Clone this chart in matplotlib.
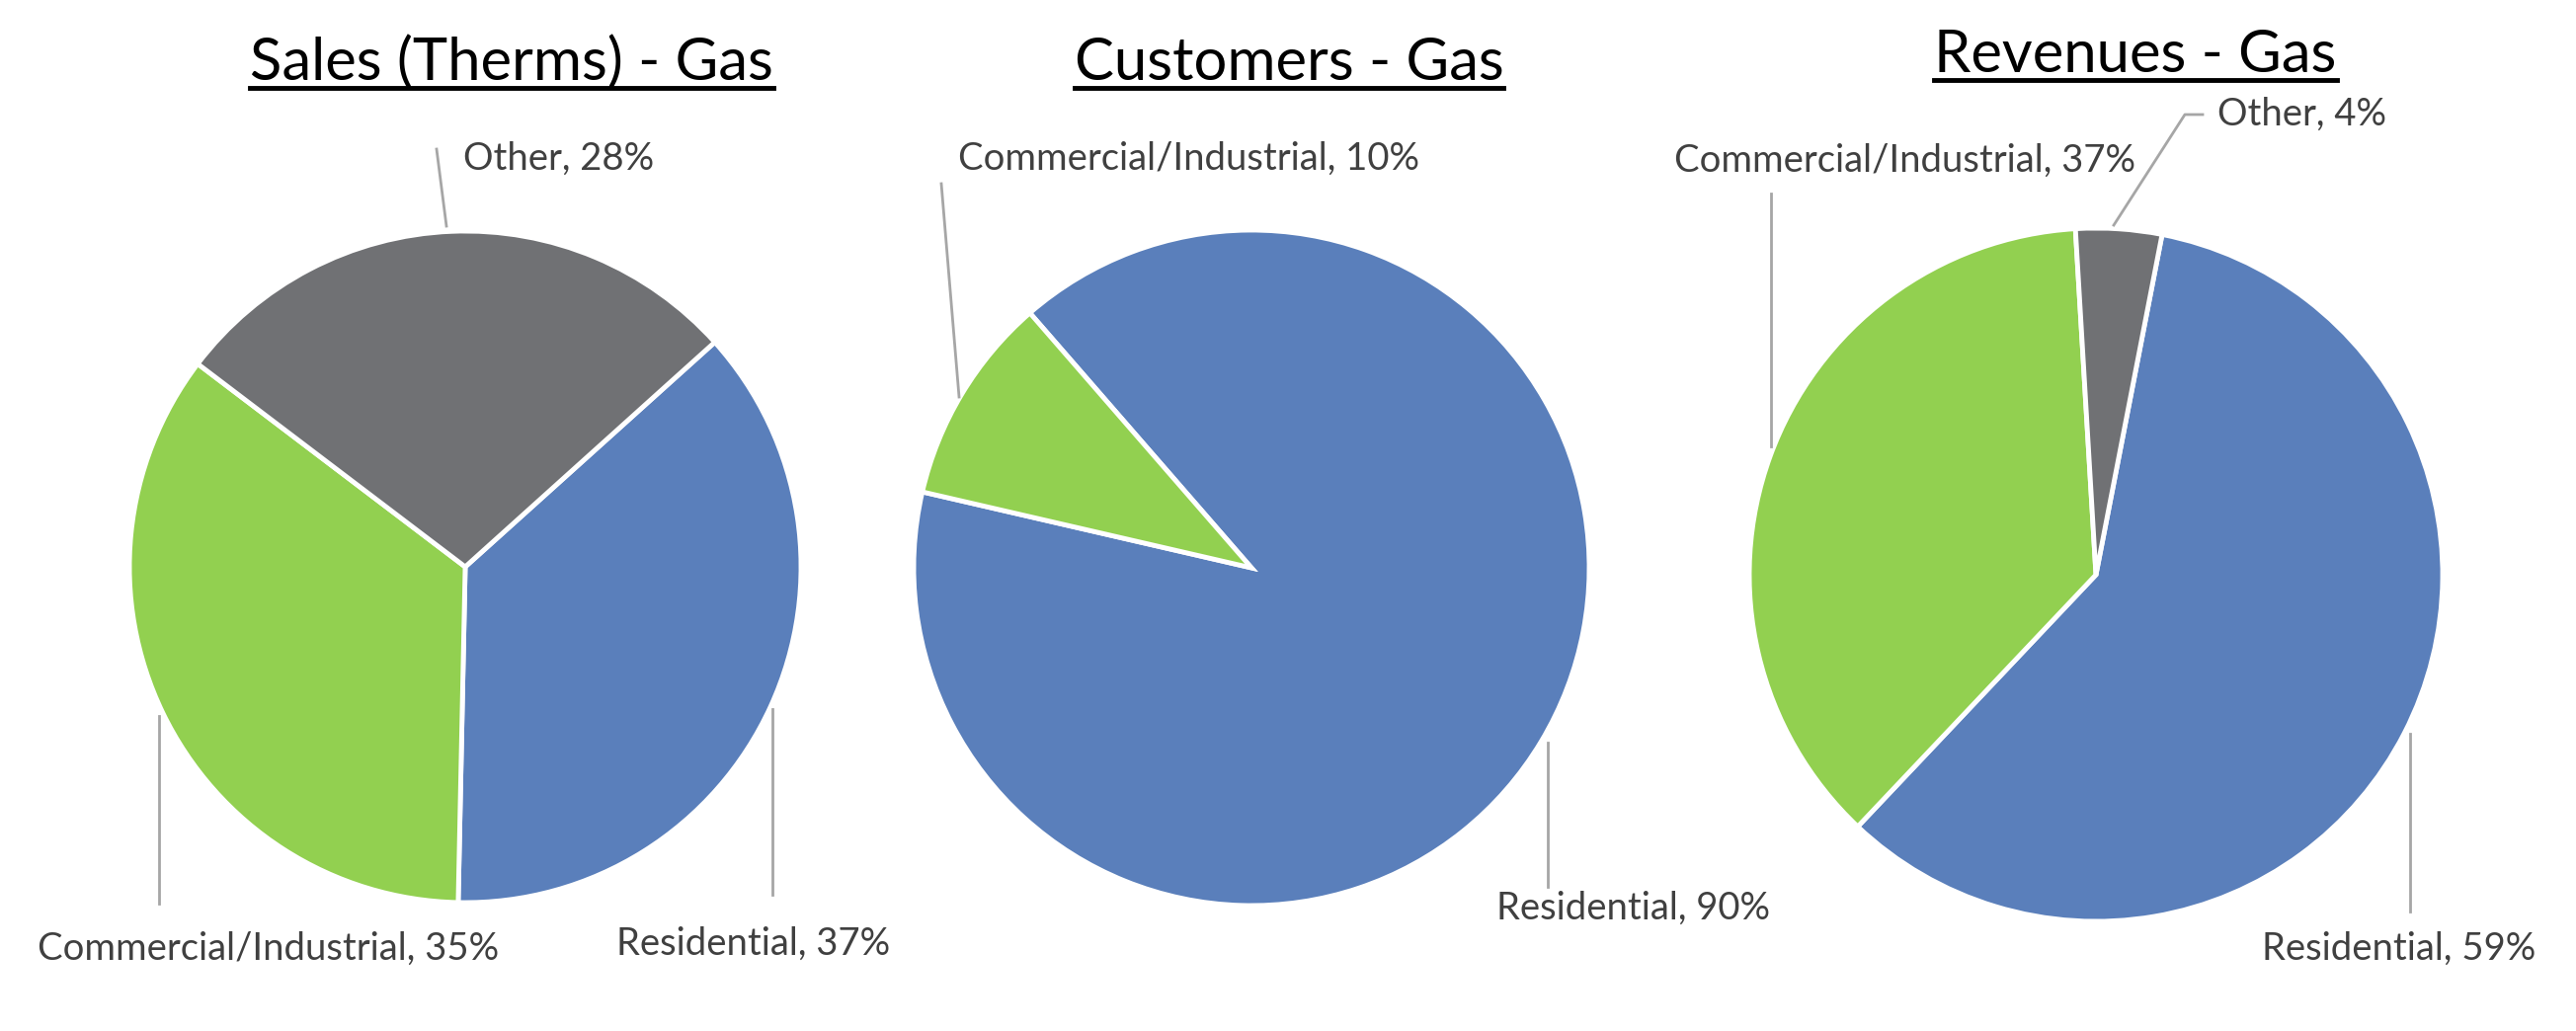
import matplotlib.pyplot as plt
from matplotlib.lines import Line2D

# данные
sales_labels = ['Residential', 'Commercial/Industrial', 'Other']
sales_values = [37, 35, 28]

customers_labels = ['Residential', 'Commercial/Industrial']
customers_values = [90, 10]

revenues_labels = ['Residential', 'Commercial/Industrial', 'Other']
revenues_values = [59, 37, 4]

titles = ['Sales (Therms) - Gas', 'Customers - Gas', 'Revenues - Gas']

blue = '#5A7FBB'
green = '#92D050'
grey = '#707174'
label_color = '#404040'
leader_color = '#A6A6A6'

W, H = 2608, 1044
plt.rcParams['font.family'] = ['Lato', 'DejaVu Sans']

fig = plt.figure(figsize=(W / 100, H / 100), dpi=100)
ax = fig.add_axes([0, 0, 1, 1])


def up(y):
    # перевод координаты "сверху вниз" в координаты оси
    return H - y


wedge_style = dict(edgecolor='white', linewidth=3.5)

# 1. Sales
ax.pie(sales_values, center=(471, up(574)), radius=340, startangle=42,
       counterclock=False, colors=[blue, green, grey], wedgeprops=wedge_style)
# 2. Customers
ax.pie(customers_values, center=(1267, up(575)), radius=342, startangle=131,
       counterclock=False, colors=[blue, green], wedgeprops=wedge_style)
# 3. Revenues
ax.pie(revenues_values, center=(2122, up(582)), radius=351, startangle=79,
       counterclock=False, colors=[blue, green, grey], wedgeprops=wedge_style)

ax.set_xlim(0, W)
ax.set_ylim(0, H)
ax.set_aspect('auto')
ax.axis('off')

# подписи с выносками: (текст, позиция текста, точки линии)
labels = [
    (f'{sales_labels[2]}, {sales_values[2]}%', (469, 161), [(442, 151), (452, 229)]),
    (f'{sales_labels[1]}, {sales_values[1]}%', (38, 961), [(161, 725), (161, 915)]),
    (f'{sales_labels[0]}, {sales_values[0]}%', (624, 956), [(782, 718), (782, 906)]),
    (f'{customers_labels[1]}, {customers_values[1]}%', (970, 161), [(953, 186), (971, 402)]),
    (f'{customers_labels[0]}, {customers_values[0]}%', (1515, 920), [(1567, 752), (1567, 898)]),
    (f'{revenues_labels[2]}, {revenues_values[2]}%', (2245, 116), [(2140, 228), (2212, 116), (2230, 116)]),
    (f'{revenues_labels[1]}, {revenues_values[1]}%', (1695, 163), [(1793, 196), (1793, 452)]),
    (f'{revenues_labels[0]}, {revenues_values[0]}%', (2290, 961), [(2440, 743), (2440, 923)]),
]
for text, (tx, ty), pts in labels:
    ax.text(tx, up(ty), text, ha='left', va='center', fontsize=27.5, color=label_color)
    ax.add_line(Line2D([p[0] for p in pts], [up(p[1]) for p in pts],
                       color=leader_color, linewidth=2))

# заголовки с подчёркиванием
title_pos = [(518, 81), (1305, 81), (2162, 73)]
title_objs = []
for t, (x, y) in zip(titles, title_pos):
    title_objs.append(ax.text(x, up(y), t, ha='center', va='baseline',
                              fontsize=43, color='black'))

fig.canvas.draw()
renderer = fig.canvas.get_renderer()
for t, (x, y) in zip(title_objs, title_pos):
    bb = t.get_window_extent(renderer)
    ax.add_line(Line2D([bb.x0, bb.x1], [up(y + 8), up(y + 8)],
                       color='black', linewidth=3.5))

plt.savefig('out.png', dpi=100)
